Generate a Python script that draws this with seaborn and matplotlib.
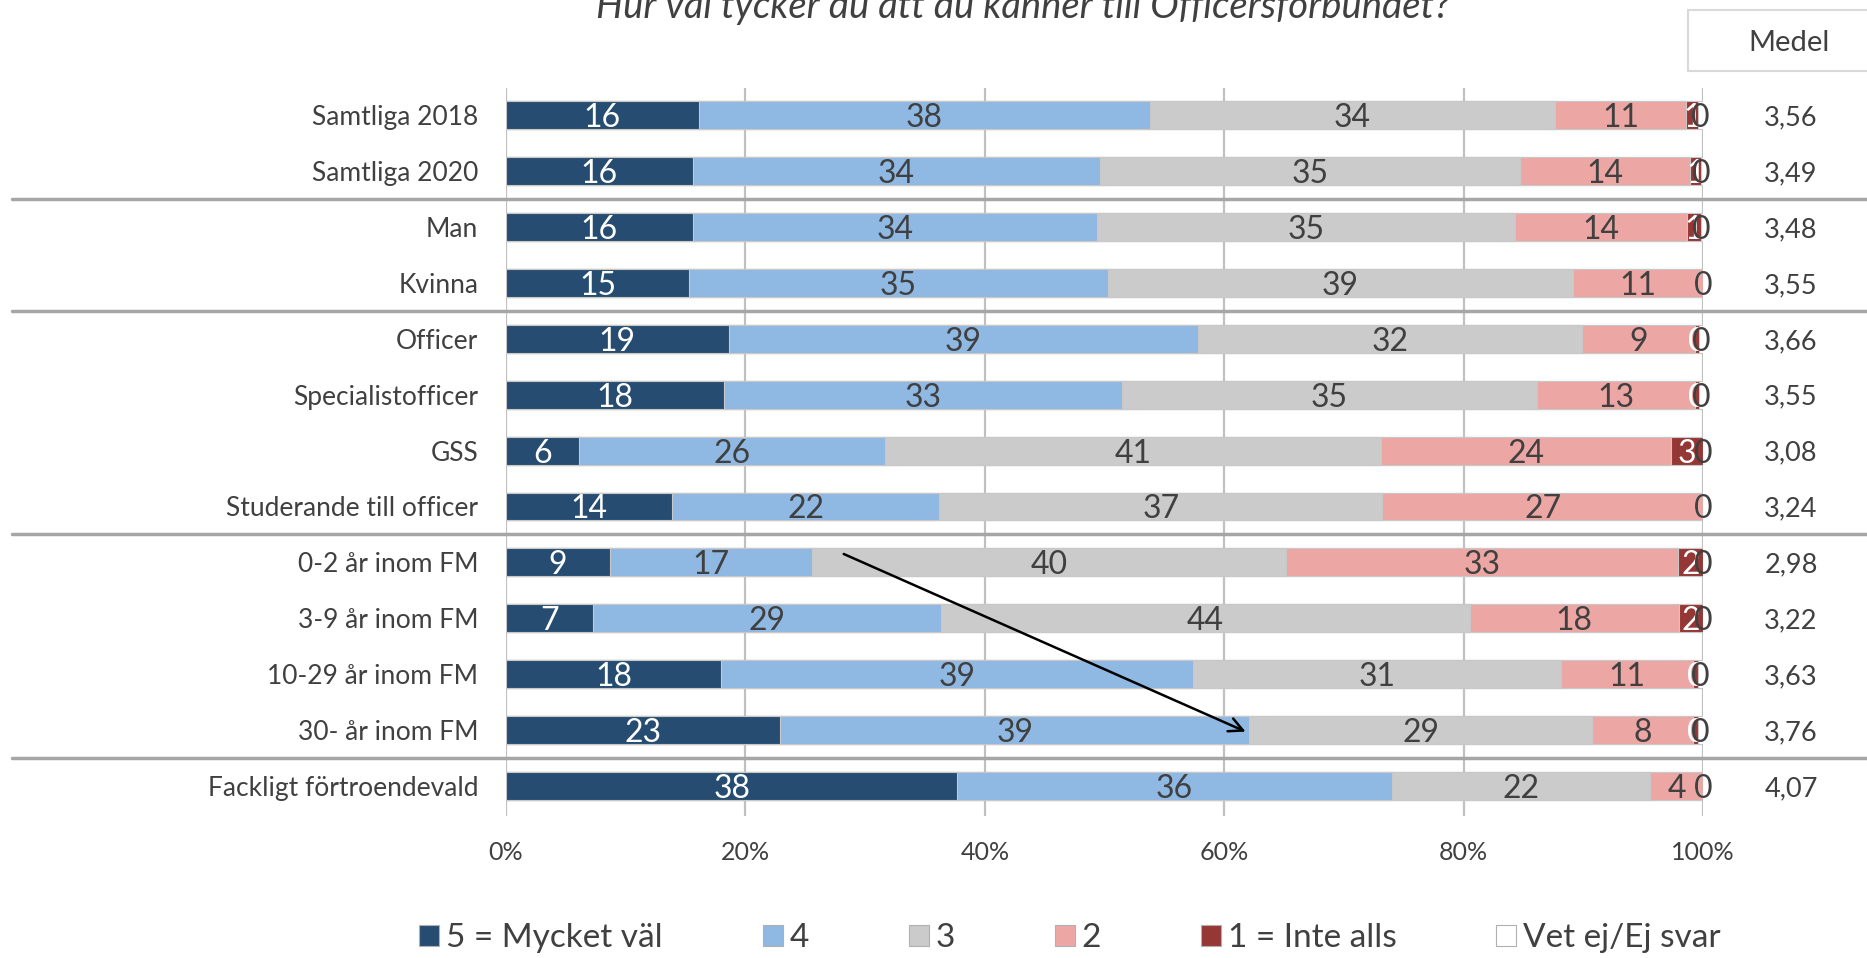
import numpy as np
import pandas as pd
import matplotlib
matplotlib.use("Agg")
import matplotlib.pyplot as plt
import seaborn as sns
from matplotlib.patches import Patch, Rectangle
from matplotlib.transforms import blended_transform_factory

# ---------------- data ----------------
title = "Hur väl tycker du att du känner till Officersförbundet?"
categories = ["Samtliga 2018", "Samtliga 2020", "Man", "Kvinna", "Officer",
              "Specialistofficer", "GSS", "Studerande till officer",
              "0-2 år inom FM", "3-9 år inom FM", "10-29 år inom FM",
              "30- år inom FM", "Fackligt förtroendevald"]
s5 = [16.1, 15.6, 15.6, 15.3, 18.6, 18.2, 6.1, 13.9, 8.7, 7.3, 18.0, 22.9, 37.7]
s4 = [37.7, 34.0, 33.8, 35.0, 39.2, 33.3, 25.6, 22.3, 16.9, 29.0, 39.4, 39.2, 36.3]
s3 = [33.8, 35.1, 34.9, 38.8, 32.1, 34.6, 41.4, 37.0, 39.6, 44.2, 30.7, 28.6, 21.6]
s2 = [11.0, 14.2, 14.4, 10.9, 9.4, 13.2, 24.2, 26.8, 32.7, 17.5, 11.1, 8.5, 4.4]
s1 = [1.0, 0.9, 1.1, 0.0, 0.4, 0.4, 2.7, 0.0, 2.1, 2.0, 0.4, 0.4, 0.0]
s0 = [0.4, 0.2, 0.2, 0.0, 0.3, 0.3, 0.0, 0.0, 0.0, 0.0, 0.4, 0.4, 0.0]
medel = ["3,56", "3,49", "3,48", "3,55", "3,66", "3,55", "3,08", "3,24",
         "2,98", "3,22", "3,63", "3,76", "4,07"]
series_names = ["5 = Mycket väl", "4", "3", "2", "1 = Inte alls", "Vet ej/Ej svar"]
xticks = [0, 20, 40, 60, 80, 100]
xtick_labels = ["0%", "20%", "40%", "60%", "80%", "100%"]
separators_after = [1, 3, 7, 11]
arrow_from = (28.0, 7.83)
arrow_to = (62.0, 11.05)

colors = ["#264d71", "#8fb8e3", "#cbcbcb", "#eca6a4", "#953735", "#ffffff"]
label_colors = ["white", "#404040", "#404040", "#404040", "white", "#404040"]
text_col = "#404040"

# ---------------- figure ----------------
sns.set_theme(style="white")
plt.rcParams["font.family"] = ["Lato", "DejaVu Sans"]

W, H = 1867, 958
fig = plt.figure(figsize=(W / 100, H / 100), dpi=100)
ax = fig.add_axes([506 / W, 1 - 816 / H, (1703 - 506) / W, (816 - 88) / H])

layers = [s5, s4, s3, s2, s1, s0]
df = pd.DataFrame({"cat": categories})
for i, s in enumerate(layers):
    df[f"s{i}"] = s
cols = [f"s{i}" for i in range(6)]
cum = df[cols].cumsum(axis=1)

for i in reversed(range(6)):
    sns.barplot(x=cum[cols[i]].values, y=df["cat"].values, order=categories,
                orient="h", color=colors[i], saturation=1, width=0.5,
                edgecolor="#c8c8c8", linewidth=0.8, errorbar=None, ax=ax,
                zorder=2)

# data labels
for i in range(6):
    for r in range(len(categories)):
        v = layers[i][r]
        c = cum[cols[i]].iloc[r] - v / 2
        ax.text(c, r, f"{v:.0f}", ha="center", va="center_baseline",
                fontsize=23, color=label_colors[i], zorder=5)

ax.set_xlim(0, 100)
ax.set_ylim(12.54, -0.49)
ax.set_xticks(xticks)
ax.set_xticklabels(xtick_labels)
ax.set_xlabel("")
ax.set_ylabel("")
ax.tick_params(axis="x", length=0, pad=18, labelsize=18, labelcolor=text_col)
ax.tick_params(axis="y", length=0, pad=20, labelsize=19, labelcolor=text_col)
for sp in ax.spines.values():
    sp.set_visible(False)
ax.grid(axis="x", color="#c0c0c0", linewidth=1.6)
ax.grid(axis="y", visible=False)
ax.set_axisbelow(True)

# separators spanning the figure width
tr = blended_transform_factory(fig.transFigure, ax.transData)
for r in separators_after:
    ax.plot([12 / W, 1.0], [r + 0.5, r + 0.5], transform=tr, color="#a6a6a6",
            linewidth=2.5, clip_on=False, zorder=1)

# Medel column
for r, m in enumerate(medel):
    ax.text(1791 / W, r, m, transform=tr, ha="center", va="center_baseline",
            fontsize=19.5, color=text_col)
fig.patches.append(Rectangle((1688 / W, 1 - 71 / H), (1875 - 1688) / W, 61 / H,
                             transform=fig.transFigure, facecolor="white",
                             edgecolor="#d9d9d9", linewidth=1.5))
fig.text(1789 / W, 1 - 43 / H, "Medel", ha="center", va="center",
         fontsize=21, color=text_col)

# title (partly cut at the top, as in the reference)
fig.text(1023 / W, 1 - 18 / H, title, ha="center", va="baseline",
         fontsize=27.5, style="italic", color=text_col)

# arrow
ax.annotate("", xy=arrow_to, xytext=arrow_from,
            arrowprops=dict(arrowstyle="->", color="black", lw=1.8,
                            mutation_scale=25), zorder=6)

# legend
handles = [Patch(facecolor=colors[i], edgecolor="#b0b0b0", linewidth=0.8,
                 label=series_names[i]) for i in range(6)]
fig.legend(handles=handles, loc="center", bbox_to_anchor=(1070 / W, 1 - 938 / H),
           ncol=6, frameon=False, fontsize=24, handlelength=0.6,
           handleheight=0.6, handletextpad=0.2, columnspacing=3.0,
           labelcolor=text_col)

fig.savefig("out.png", dpi=100)
